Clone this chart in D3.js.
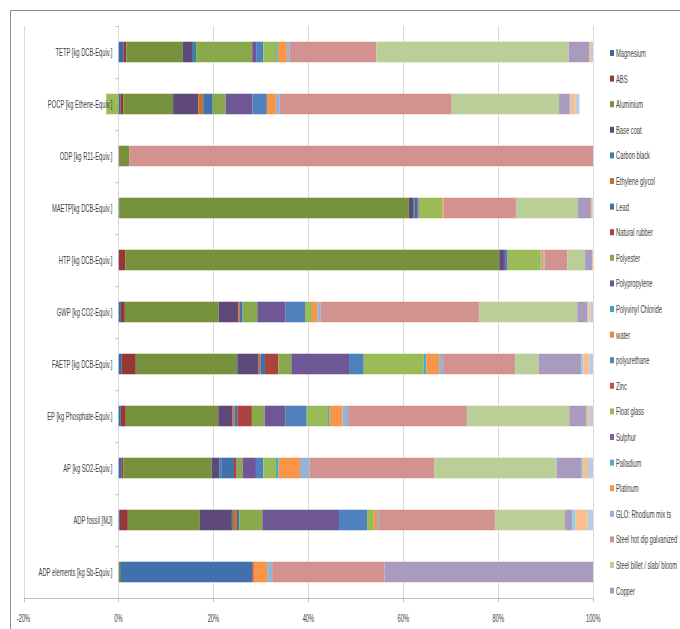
<!DOCTYPE html>
<html>
<head>
<meta charset="utf-8">
<script src="https://cdn.jsdelivr.net/npm/d3@7/dist/d3.min.js"></script>
<style>
  html, body { margin: 0; padding: 0; background: #fff; }
  svg { display: block; }
  text { font-family: "Liberation Sans Narrow", "Liberation Sans", "DejaVu Sans Condensed", sans-serif; fill: #404040; }
</style>
</head>
<body>
<svg id="chart" width="680" height="629"></svg>
<script>
// Impact categories, top to bottom
const categories = [
  "TETP [kg DCB-Equiv.]",
  "POCP [kg Ethene-Equiv.]",
  "ODP [kg R11-Equiv.]",
  "MAETP[kg DCB-Equiv.]",
  "HTP [kg DCB-Equiv.]",
  "GWP  [kg CO2-Equiv.]",
  "FAETP [kg DCB-Equiv.]",
  "EP [kg Phosphate-Equiv.]",
  "AP [kg SO2-Equiv.]",
  "ADP fossil [MJ]",
  "ADP elements [kg Sb-Equiv.]"
];

// Materials (stack order); the last three have no legend room
const materials = [
  "Magnesium", "ABS", "Aluminium", "Base coat", "Carbon black", "Ethylene glycol",
  "Lead", "Natural rubber", "Polyester", "Polypropylene", "Polyvinyl Chloride", "water",
  "polyurethane", "Zinc", "Float  glass", "Sulphur", "Palladium", "Platinum",
  "GLO: Rhodium mix ts", "Steel hot dip galvanized", "Steel billet / slab/ bloom", "Copper",
  "Series 23", "Series 24", "Series 25"
];

const colors = [
  "#3a68a4", "#953735", "#76923c", "#5f497a", "#31859c", "#c8702e",
  "#4270aa", "#aa4240", "#8aa84c", "#6e5794", "#42a0b8", "#e98a3c",
  "#4f81bd", "#c0504d", "#9bbb59", "#8064a2", "#4bacc6", "#f79646",
  "#95b3d7", "#d29290", "#b9cf97", "#a99bbf",
  "#92cddc", "#fabf8f", "#b8cce4"
];

// Share of each material per impact category, in percent (same order as materials)
//              Mg    ABS   Alu    Base  CBlk  EG    Lead   NRub  Poly   PP     PVC water PU    Zinc  Float  Sulph Pall  Plat  GLO   SteelHD SteelB Cu    s23   s24   s25
const tetp     = [1.1,  0.56, 11.9,  2.1,  0.7,  0,    0,     0,    11.8,  0.84,  0, 0,    1.5,  0,    2.7,   0,    0.35, 1.9,  0.56, 18.3,  40.5,  4.3,  0,    0.4,  0.5];
const pocp     = [0.4,  0.6,  10.5,  5.3,  0,    1.05, 2.0,   0,    2.7,   5.7,   0, 0,    3.0,  0,    -2.6,  0,    0,    1.9,  0.84, 36.2,  22.6,  2.25, 0.2,  1.05, 0.84];
const odp      = [0.05, 0.2,  2.0,   0,    0,    0,    0,     0,    0,     0,     0, 0,    0,    0,    0,     0,    0,    0,    0,    97.75, 0,     0,    0,    0,    0];
const maetp    = [0.15, 0,    61.0,  0.9,  0.36, 0,    0,     0,    0,     0.48,  0, 0,    0.36, 0,    4.92,  0,    0,    0.29, 0,    15.24, 13.0,  2.8,  0,    0.36, 0.13];
const htp      = [0.1,  1.4,  78.7,  0.98, 0,    0,    0,     0,    0,     0.4,   0, 0,    0.38, 0,    6.95,  0,    0.14, 0.42, 0.28, 4.78,  3.73,  1.48, 0,    0.27, 0];
const gwp      = [0.5,  0.84, 19.74, 4.14, 0,    0.35, 0.57,  0,    3.1,   5.97,  0, 0,    4.07, 0,    1.48,  0,    0,    1.13, 0.7,  33.31, 20.73, 2.11, 0.2,  0.5,  0.56];
const faetp    = [0.7,  2.95, 21.37, 4.5,  0,    0.35, 0.98,  2.82, 2.74,  12.15, 0, 0,    3.09, 0,    12.65, 0,    0.56, 2.67, 0.84, 15.18, 4.92,  8.99, 0.42, 1.27, 0.84];
const ep       = [0.49, 1.05, 19.48, 3.02, 0,    0.42, 0.63,  3.01, 2.68,  4.43,  0, 0,    4.43, 0,    4.49,  0,    0.36, 2.67, 1.19, 25.16, 21.43, 3.52, 0.21, 0.63, 0.7];
const ap       = [0.63, 0.42, 18.56, 1.62, 0.42, 0,    2.67,  0.56, 1.26,  2.81,  0, 0,    1.56, 0,    2.66,  0,    0.56, 4.5,  1.98, 26.27, 25.8,  5.27, 0.34, 0.99, 1.12];
const adpFossil= [0.28, 1.69, 15.18, 6.74, 0.21, 0.84, 0.51,  0,    4.85,  16.15, 0, 0,    5.9,  0,    1.41,  0,    0,    0.7,  0.42, 24.39, 14.76, 1.54, 0.72, 2.53, 1.18];
const adpElem  = [0,    0,    0.35,  0,    0,    0,    27.8,  0,    0,     0,     0, 0,    0,    0.35, 0,     0,    0,    2.82, 1.05, 23.68, 0,     43.95,0,    0,    0];

const rows = [tetp, pocp, odp, maetp, htp, gwp, faetp, ep, ap, adpFossil, adpElem];

const xTicks = [-20, 0, 20, 40, 60, 80, 100];
const legendCount = 22;

// ---------------------------------------------------------------
const svg = d3.select("#chart");
const textScaleX = 0.55;   // condensed lettering

const plot = { left: 23.5, right: 593.3, top: 26, bottom: 598 };

const x = d3.scaleLinear().domain([-20, 100]).range([plot.left, plot.right]);
const y = d3.scaleBand().domain(categories).range([plot.top, plot.bottom])
  .paddingInner(0.6).paddingOuter(0.3);

// Outer chart frame
svg.append("path")
  .attr("d", "M10.5,640 V10.5 H700")
  .attr("fill", "none").attr("stroke", "#8c8c8c").attr("stroke-width", 1);

// Vertical gridlines
svg.append("g").selectAll("line").data(xTicks).join("line")
  .attr("x1", d => Math.round(x(d)) + 0.5).attr("x2", d => Math.round(x(d)) + 0.5)
  .attr("y1", plot.top).attr("y2", plot.bottom)
  .attr("stroke", "#d9d9d9").attr("stroke-width", 1);

// Table for stacking
const table = categories.map((c, i) => {
  const o = { category: c };
  materials.forEach((m, k) => { o[m] = rows[i][k]; });
  return o;
});

const stack = d3.stack().keys(materials).offset(d3.stackOffsetDiverging);
const series = stack(table);

const bars = svg.append("g");
series.forEach((s, k) => {
  bars.append("g").attr("fill", colors[k])
    .selectAll("rect").data(s.filter(d => d[1] - d[0] !== 0)).join("rect")
    .attr("x", d => x(Math.min(d[0], d[1])))
    .attr("width", d => Math.abs(x(d[1]) - x(d[0])))
    .attr("y", d => y(d.data.category))
    .attr("height", y.bandwidth());
});

// Light bar outline
bars.append("g").selectAll("rect").data(categories).join("rect")
  .attr("x", (c, i) => x(d3.sum(rows[i].filter(v => v < 0))))
  .attr("width", (c, i) => x(d3.sum(rows[i].filter(v => v > 0))) - x(d3.sum(rows[i].filter(v => v < 0))))
  .attr("y", c => y(c)).attr("height", y.bandwidth())
  .attr("fill", "none").attr("stroke", "#ffffff").attr("stroke-opacity", 0.5).attr("stroke-width", 0.6);

// X axis line and ticks
const axisColor = "#bfbfbf";
svg.append("line")
  .attr("x1", plot.left).attr("x2", plot.right)
  .attr("y1", plot.bottom + 0.5).attr("y2", plot.bottom + 0.5)
  .attr("stroke", axisColor);
svg.append("g").selectAll("line").data(xTicks).join("line")
  .attr("x1", d => Math.round(x(d)) + 0.5).attr("x2", d => Math.round(x(d)) + 0.5)
  .attr("y1", plot.bottom).attr("y2", plot.bottom + 4)
  .attr("stroke", axisColor);

svg.append("g").selectAll("text").data(xTicks).join("text")
  .attr("transform", d => `translate(${x(d)},${plot.bottom + 24}) scale(${textScaleX},1)`)
  .attr("text-anchor", "middle")
  .attr("font-size", 10.5)
  .text(d => d + "%");

// Category ticks on the 0% line
const step = y.step();
const bounds = d3.range(categories.length + 1).map(i => plot.top + i * step);
svg.append("g").selectAll("line").data(bounds).join("line")
  .attr("x1", x(0) - 3).attr("x2", x(0))
  .attr("y1", d => Math.round(d) + 0.5).attr("y2", d => Math.round(d) + 0.5)
  .attr("stroke", axisColor);

// Category labels
svg.append("g").selectAll("text").data(categories).join("text")
  .attr("transform", c => `translate(${x(0) - 6},${y(c) + y.bandwidth() / 2 + 3.5}) scale(${textScaleX},1)`)
  .attr("text-anchor", "end")
  .attr("font-size", 10.5)
  .text(c => c);

// Legend
const legend = svg.append("g");
const legendItems = materials.slice(0, legendCount);
const lg = legend.selectAll("g").data(legendItems).join("g")
  .attr("transform", (d, i) => `translate(610,${53.5 + i * 25.6})`);
lg.append("rect")
  .attr("x", 0).attr("y", -3.5).attr("width", 4).attr("height", 6)
  .attr("fill", (d, i) => colors[i]);
lg.append("text")
  .attr("transform", `translate(6,3.5) scale(${textScaleX},1)`)
  .attr("font-size", 10.5)
  .text(d => d);
</script>
</body>
</html>
